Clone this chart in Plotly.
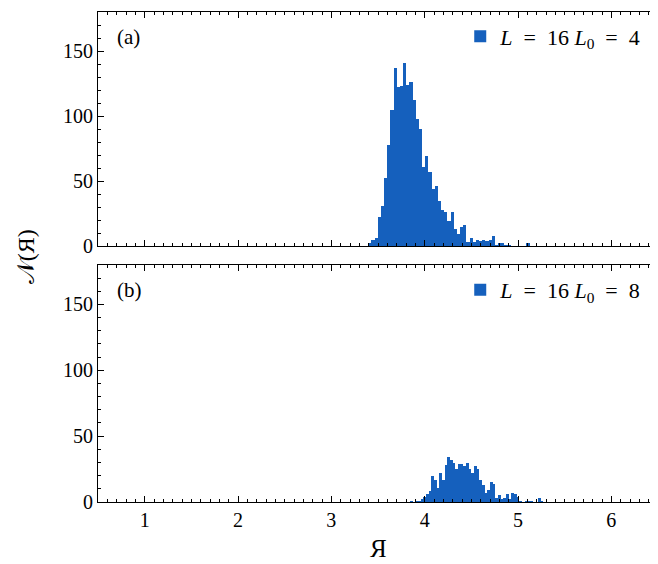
import plotly.graph_objects as go
from plotly.subplots import make_subplots

# ---- data ----
# panel (a): L = 16, L0 = 4
a_bin_start = 3.396
a_bin_width = 0.0339
a_counts = [2, 5, 6, 22, 31, 52, 78, 105, 137, 122, 123, 141, 124, 126, 112, 98,
            90, 61, 69, 57, 44, 46, 35, 28, 26, 19, 26, 13, 9, 15, 16, 3, 6, 3,
            5, 4, 5, 4, 5, 8, 1, 2, 2, 1, 1, 0, 0, 0, 0, 0, 2]

# panel (b): L = 16, L0 = 8
b_bin_start = 3.843
b_bin_width = 0.0286
b_counts = [1, 0, 1, 1, 2, 4, 6, 8, 20, 17, 11, 22, 17, 28, 34, 32, 30, 25, 29,
            29, 27, 30, 25, 22, 27, 25, 17, 13, 7, 9, 15, 14, 3, 5, 2, 3, 6, 2,
            7, 6, 4, 1, 0, 1, 1, 1, 0, 0, 3, 1, 0]

labels = ["<i>L</i>&nbsp; = &nbsp;16 <i>L</i><sub>0</sub>&nbsp; = &nbsp;4",
          "<i>L</i>&nbsp; = &nbsp;16 <i>L</i><sub>0</sub>&nbsp; = &nbsp;8"]
panel_tags = ["(a)", "(b)"]
x_ticks = [1, 2, 3, 4, 5, 6]
y_ticks = [0, 50, 100, 150]

BAR = "#1560bd"
FONT = "Liberation Serif, Times New Roman, DejaVu Serif, serif"

def centers(start, width, n):
    return [start + (i + 0.5) * width for i in range(n)]

fig = make_subplots(rows=2, cols=1, shared_xaxes=True, vertical_spacing=0.04)

fig.add_trace(go.Bar(x=centers(a_bin_start, a_bin_width, len(a_counts)), y=a_counts,
                     width=a_bin_width, marker=dict(color=BAR, line=dict(width=0)),
                     name=labels[0], legend="legend"), row=1, col=1)
fig.add_trace(go.Bar(x=centers(b_bin_start, b_bin_width, len(b_counts)), y=b_counts,
                     width=b_bin_width, marker=dict(color=BAR, line=dict(width=0)),
                     name=labels[1], legend="legend2"), row=2, col=1)

top_dom = [0.5224, 1.0]
bot_dom = [0.0, 0.4837]

axis_common = dict(showline=True, linecolor="black", linewidth=1, mirror="ticks",
                   ticks="inside", ticklen=6, tickcolor="black", showgrid=False,
                   zeroline=False, tickfont=dict(family=FONT, size=20, color="black"))

for r, dom in [(1, top_dom), (2, bot_dom)]:
    fig.update_xaxes(row=r, col=1, range=[0.5, 6.5], tickvals=x_ticks,
                     minor=dict(dtick=0.1, ticks="inside", ticklen=3, tickcolor="black"),
                     showticklabels=(r == 2), **axis_common)
    fig.update_yaxes(row=r, col=1, range=[0, 180], tickvals=y_ticks, domain=dom,
                     minor=dict(dtick=10, ticks="inside", ticklen=3, tickcolor="black"),
                     **axis_common)

legend_style = dict(xanchor="right", yanchor="top", bgcolor="rgba(0,0,0,0)",
                    font=dict(family=FONT, size=22, color="black"),
                    itemsizing="constant")
# page body has an 8px margin: figure is 650x556 placed at (8, 8)
fig.update_layout(
    width=650, height=556,
    margin=dict(l=90, r=0, t=4, b=62),
    paper_bgcolor="white", plot_bgcolor="white",
    bargap=0, barmode="overlay",
    showlegend=True,
    legend=dict(x=0.979, y=0.993, **legend_style),
    legend2=dict(x=0.979, y=bot_dom[1] - 0.008, **legend_style),
)

fig.add_annotation(text=panel_tags[0], xref="paper", yref="paper", x=0.03, y=0.977,
                   xanchor="left", yanchor="top", showarrow=False,
                   font=dict(family=FONT, size=21, color="black"))
fig.add_annotation(text=panel_tags[1], xref="paper", yref="paper", x=0.03, y=bot_dom[1] - 0.022,
                   xanchor="left", yanchor="top", showarrow=False,
                   font=dict(family=FONT, size=21, color="black"))

fig.add_annotation(text="Я", xref="paper", yref="paper", x=0.5, y=-0.094,
                   xanchor="center", yanchor="middle", showarrow=False,
                   font=dict(family=FONT, size=25, color="black"))
fig.add_annotation(text="𝒩(Я)", xref="paper", yref="paper", x=-0.128, y=0.5,
                   xanchor="center", yanchor="middle", showarrow=False, textangle=-90,
                   font=dict(family=FONT, size=24, color="black"))

fig.write_html("out.html")
